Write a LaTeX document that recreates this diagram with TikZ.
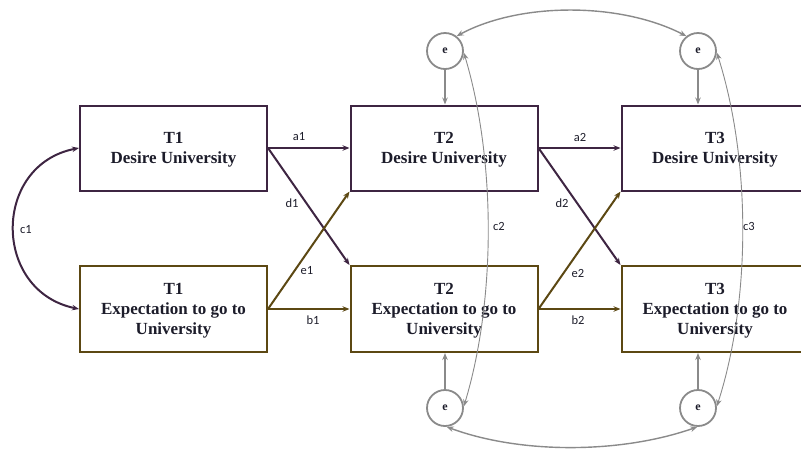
\documentclass[tikz,border=0pt]{standalone}
\usepackage{fontspec}
\setmainfont{Liberation Serif}
\newfontfamily\labfont{Carlito}
\usetikzlibrary{arrows.meta}
\definecolor{purp}{HTML}{3E2542}
\definecolor{oliv}{HTML}{5C4813}
\definecolor{ink}{HTML}{1C1C2A}
\definecolor{errgray}{HTML}{8A8A8A}
\tikzset{
  varbox/.style={draw, line width=2pt, minimum width=187, minimum height=85,
    inner sep=0pt, label={[vartext]center:{#1}}},
  vartext/.style={align=center, inner sep=0pt, text=ink, yshift=-2pt,
    font=\bfseries\fontsize{17}{20}\selectfont},
  errnode/.style={circle, draw=errgray, line width=1.8pt, minimum size=36,
    inner sep=0pt, text=ink, font=\bfseries\fontsize{12}{12}\selectfont},
  tip/.style={-{Stealth[length=7pt,width=5.5pt]}},
  bitip/.style={{Stealth[length=7pt,width=5.5pt]}-{Stealth[length=7pt,width=5.5pt]}},
  conn/.style={line width=2pt},
  lbl/.style={font=\labfont\fontsize{12.5}{14}\selectfont, text=ink, inner sep=0pt},
}
\begin{document}
\begin{tikzpicture}[x=1pt, y=-1pt]
\useasboundingbox (0,0) rectangle (801,448);

% observed variables
\node[varbox={T1\\Desire University}, draw=purp] (D1) at (173.5,148) {};
\node[varbox={T1\\Expectation to go to\\University}, draw=oliv, minimum height=86] (X1) at (173.5,309) {};
\node[varbox={T2\\Desire University}, draw=purp] (D2) at (444,148) {};
\node[varbox={T2\\Expectation to go to\\University}, draw=oliv, minimum height=86] (X2) at (444,309) {};
\node[varbox={T3\\Desire University}, draw=purp] (D3) at (715,148) {};
\node[varbox={T3\\Expectation to go to\\University}, draw=oliv, minimum height=86] (X3) at (715,309) {};

% residual terms
\node[errnode] (eD2) at (445,51) {e};
\node[errnode] (eD3) at (698,51) {e};
\node[errnode] (eX2) at (445,408) {e};
\node[errnode] (eX3) at (698,408) {e};

% autoregressive and cross-lagged paths
\draw[tip, conn, purp] (D1.east) -- (D2.west);
\draw[tip, conn, purp] (D1.east) -- (D2.west |- X2.north);
\draw[tip, conn, oliv] (X1.east) -- (D2.south west);
\draw[tip, conn, oliv] (X1.east) -- (X2.west);
\draw[tip, conn, purp] (D2.east) -- (D3.west);
\draw[tip, conn, purp] (D2.east) -- (D3.west |- X3.north);
\draw[tip, conn, oliv] (X2.east) -- (D3.south west);
\draw[tip, conn, oliv] (X2.east) -- (X3.west);

% covariance at T1
\draw[bitip, conn, purp] (D1.west) .. controls (-8,165) and (-8,291) .. (X1.west);

% residuals into variables
\draw[tip, line width=1.8pt, errgray] (eD2.south) -- (eD2 |- D2.north);
\draw[tip, line width=1.8pt, errgray] (eD3.south) -- (eD3 |- D3.north);
\draw[tip, line width=1.8pt, errgray] (eX2.north) -- (eX2 |- X2.south);
\draw[tip, line width=1.8pt, errgray] (eX3.north) -- (eX3 |- X3.south);

% residual covariances
\draw[bitip, line width=0.9pt, errgray] (eX2.5) .. controls (496,300) and (496,160) .. (eD2.-5);
\draw[bitip, line width=0.9pt, errgray] (eX3.5) .. controls (751,300) and (751,160) .. (eD3.-5);
\draw[bitip, line width=1.4pt, errgray] (eD2.52) .. controls (520,2) and (620,2) .. (eD3.128);
\draw[bitip, line width=1.4pt, errgray] (eX2.-85) .. controls (520,454) and (620,454) .. (eX3.-92);

% path labels
\node[lbl] (la1) at (299,137) {a1};
\node[lbl] (ld1) at (292,203) {d1};
\node[lbl] (le1) at (307,271) {e1};
\node[lbl] (lb1) at (313,320) {b1};
\node[lbl] (la2) at (580,137) {a2};
\node[lbl] (ld2) at (562,203) {d2};
\node[lbl] (le2) at (578,273) {e2};
\node[lbl] (lb2) at (578,320) {b2};
\node[lbl] (lc1) at (26,230) {c1};
\node[lbl] (lc2) at (499,226) {c2};
\node[lbl] (lc3) at (749,226) {c3};
\end{tikzpicture}
\end{document}
